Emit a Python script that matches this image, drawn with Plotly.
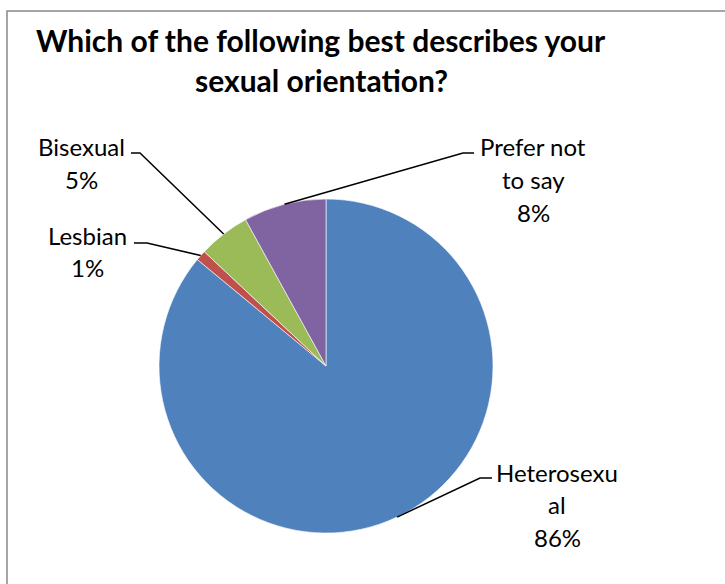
import math
import plotly.graph_objects as go

# Survey responses
categories = ["Heterosexual", "Lesbian", "Bisexual", "Prefer not to say"]
shares = [86, 1, 5, 8]
label_lines = [["Heterosexu", "al"], ["Lesbian"], ["Bisexual"], ["Prefer not", "to say"]]
colors = ["#4F81BD", "#C0504D", "#9BBB59", "#8064A2"]

W, H = 725, 584
CX, CY, R = 326, 366, 167          # pie centre and radius in pixels
FONT = "Lato"
LABEL_SIZE = 24


def px(x):
    return x / W


def py(y):
    return 1 - y / H


fig = go.Figure(go.Pie(
    labels=categories,
    values=shares,
    sort=False,
    direction="clockwise",
    rotation=0,
    marker=dict(colors=colors, line=dict(color="rgba(255,255,255,0.6)", width=1)),
    textinfo="none",
    hoverinfo="label+percent",
    domain=dict(x=[px(CX - R), px(CX + R)], y=[py(CY + R), py(CY - R)]),
    showlegend=False,
))

# label block placement: (centre x, first line y, elbow x, elbow y, end x)
label_layout = [
    (557, 472, 480, 478, 492),
    (87, 235, 147, 243, 134),
    (81, 147, 140, 153, 131),
    (533, 147, 463, 153, 474),
]

shapes = []
annotations = []
total = sum(shares)
start = 0.0
for name_lines, value, (tx, ty, ex, ey, endx) in zip(label_lines, shares, label_layout):
    mid = (start + value / 2) / total * 2 * math.pi
    start += value
    # point on the rim at the middle of the slice (clockwise from 12 o'clock)
    sx = CX + R * math.sin(mid)
    sy = CY - R * math.cos(mid)
    shapes.append(dict(type="path", xref="paper", yref="paper",
                       path=f"M {px(sx)} {py(sy)} L {px(ex)} {py(ey)} L {px(endx)} {py(ey)}",
                       line=dict(color="black", width=1.5)))
    lines = name_lines + [f"{value}%"]
    for i, t in enumerate(lines):
        annotations.append(dict(text=t, x=px(tx), y=py(ty + i * 32.5), xref="paper", yref="paper",
                                showarrow=False, xanchor="center", yanchor="middle",
                                font=dict(family=FONT, size=LABEL_SIZE, color="black")))

# chart title (the styled span keeps "ti" from forming a ligature)
title_lines = ["Which of the following best describes your",
               'sexual orienta<span style="color:black">t</span>ion?']
for i, t in enumerate(title_lines):
    annotations.append(dict(text=f"<b>{t}</b>", x=px(321), y=py(40 + i * 40), xref="paper", yref="paper",
                            showarrow=False, xanchor="center", yanchor="middle",
                            font=dict(family=FONT, size=30, color="black")))

# chart area border
shapes.append(dict(type="rect", xref="paper", yref="paper",
                   x0=px(7), y0=-0.1, x1=1.1, y1=py(11),
                   line=dict(color="#888888", width=1.5), fillcolor="rgba(0,0,0,0)"))

fig.update_layout(
    width=W, height=H,
    margin=dict(l=0, r=0, t=0, b=0),
    paper_bgcolor="white",
    plot_bgcolor="white",
    shapes=shapes,
    annotations=annotations,
)

fig.write_html("out.html")
